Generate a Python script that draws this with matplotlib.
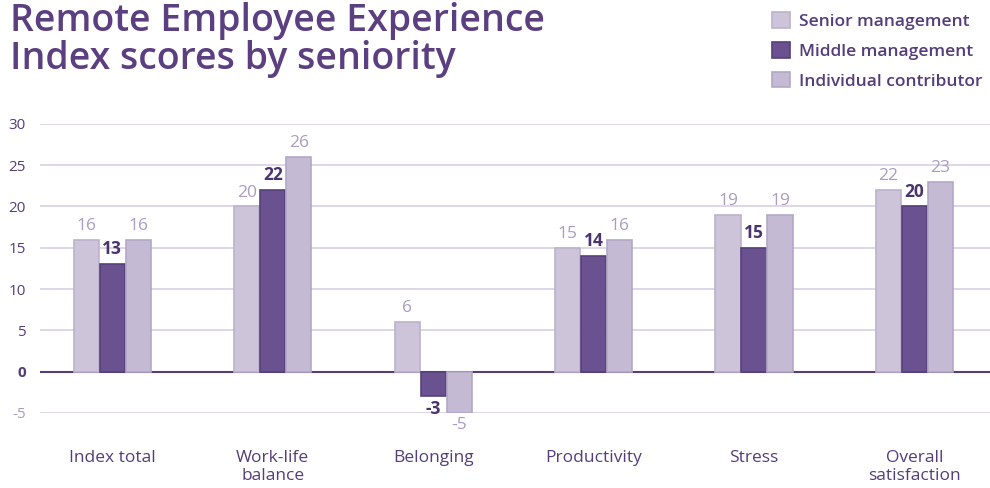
import matplotlib
matplotlib.use("Agg")
import matplotlib.pyplot as plt
import numpy as np

categories = ["Index total", "Work-life\nbalance", "Belonging", "Productivity", "Stress", "Overall\nsatisfaction"]
series_names = ["Senior management", "Middle management", "Individual contributor"]
senior = [16, 20, 6, 15, 19, 22]
middle = [13, 22, -3, 14, 15, 20]
individual = [16, 26, -5, 16, 19, 23]
yticks = [-5, 0, 5, 10, 15, 20, 25, 30]

face_colors = ["#cdc4da", "#6a5190", "#c4bad3"]
edge_colors = ["#bdb2cc", "#56417a", "#b3a8c6"]
label_colors = ["#a99dc0", "#4a3470", "#a99dc0"]
label_weights = ["normal", "bold", "normal"]
dark = "#553d7a"
grid_c = "#d8d0e3"

plt.rcParams['font.family'] = ['Open Sans', 'DejaVu Sans']

fig = plt.figure(figsize=(9.9, 4.88), dpi=100)
ax = fig.add_axes([0.0404, 0.154, 0.9596, 0.592])

x = np.arange(len(categories))
w = 0.162
data = [senior, middle, individual]
for i, vals in enumerate(data):
    off = (i - 1) * w
    ax.bar(x + off, vals, width=w * 0.97, color=face_colors[i],
           edgecolor=edge_colors[i], linewidth=1.2, zorder=3,
           label=series_names[i])
    for xi, v in zip(x + off, vals):
        if v >= 0:
            ax.text(xi, v + 0.7, str(v), ha='center', va='bottom', fontsize=12.5,
                    color=label_colors[i], fontweight=label_weights[i], zorder=4)
        else:
            ax.text(xi, v - 0.5, str(v), ha='center', va='top', fontsize=12.5,
                    color=label_colors[i], fontweight=label_weights[i], zorder=4)

ax.set_xlim(-0.45, 5.47)
ax.set_ylim(-5, 30)
ax.set_yticks(yticks)
for t in yticks:
    if t == 0:
        ax.axhline(0, color=dark, linewidth=1.5, zorder=2)
    else:
        ax.axhline(t, color=grid_c, linewidth=1.2, zorder=1)

ax.set_yticklabels([str(t) for t in yticks])
for lab, t in zip(ax.get_yticklabels(), yticks):
    lab.set_fontsize(11)
    if t == 0:
        lab.set_color(dark); lab.set_fontweight('bold')
    elif t < 0:
        lab.set_color("#a99dc0")
    else:
        lab.set_color(dark)
ax.tick_params(axis='y', length=0, pad=10)
ax.set_xticks(x)
ax.set_xticklabels(categories, fontsize=12.5, color=dark, linespacing=1.1)
ax.tick_params(axis='x', length=0, pad=27)
for s in ax.spines.values():
    s.set_visible(False)

fig.text(0.010, 0.995, "Remote Employee Experience\nIndex scores by seniority", ha='left', va='top',
         fontsize=27, color="#5b3f80", fontweight='semibold', linespacing=0.98)

leg = fig.legend(loc='upper left', bbox_to_anchor=(0.768, 1.0), frameon=False,
                 fontsize=12.5, handlelength=1.0, handleheight=1.0, labelspacing=0.7,
                 handletextpad=0.5, borderaxespad=0.3)
for t in leg.get_texts():
    t.set_color(dark); t.set_fontweight('semibold')

fig.savefig("out.png", dpi=100)
